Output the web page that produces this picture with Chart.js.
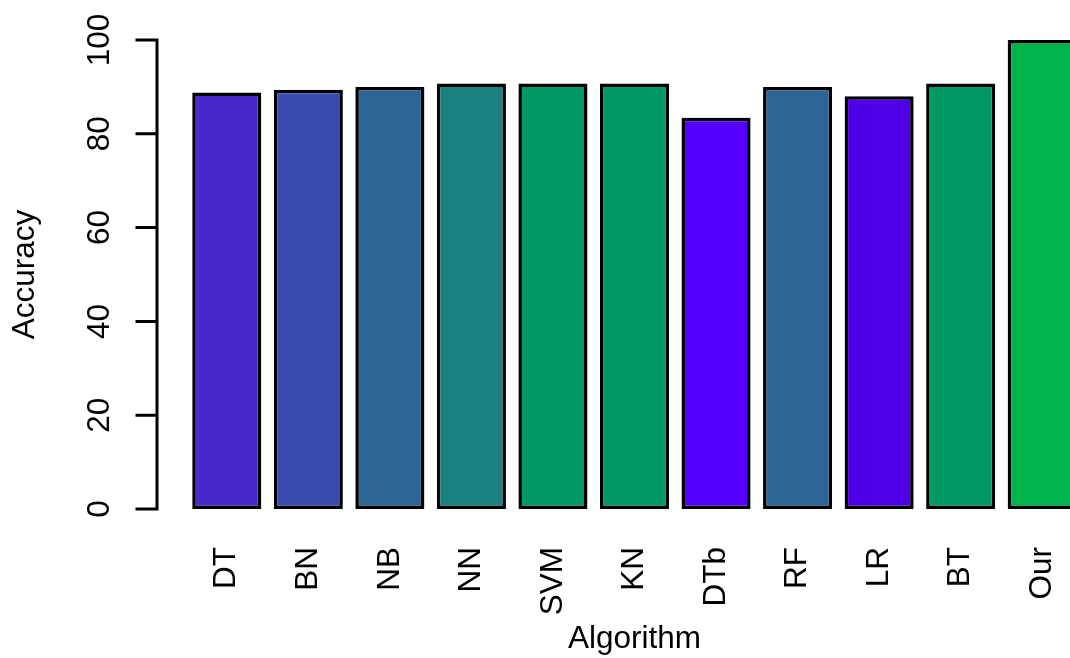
<!DOCTYPE html>
<html>
<head>
<meta charset="utf-8">
<script src="https://cdn.jsdelivr.net/npm/chart.js@4.4.0/dist/chart.umd.min.js"></script>
<style>
  html, body { margin: 0; padding: 0; background: #fff; overflow: hidden; }
  #wrap { width: 1083px; height: 658px; }
</style>
</head>
<body>
<div id="wrap"><canvas id="myChart"></canvas></div>
<script>
var algorithms = ['DT', 'BN', 'NB', 'NN', 'SVM', 'KN', 'DTb', 'RF', 'LR', 'BT', 'Our'];
var accuracy = [88.8, 89.4, 90.0, 90.7, 90.7, 90.7, 83.4, 90.0, 88.0, 90.7, 100];
var barColors = ['#4629C8', '#3A4BB0', '#2D6496', '#1A8080', '#009966', '#009966',
                 '#5500FF', '#2D6496', '#4F00E6', '#009966', '#00B34D'];
var yTicks = [0, 20, 40, 60, 80, 100];

var font = '"Liberation Sans", Arial, sans-serif';
var fontSize = 31.5;

// R style y axis, drawn next to the plot area
var rAxis = {
    id: 'rAxis',
    afterDraw: function(chart) {
        var ctx = chart.ctx;
        var y = chart.scales.y;
        var ax = 157;
        ctx.save();
        ctx.strokeStyle = '#000';
        ctx.lineWidth = 3;
        ctx.lineCap = 'square';
        ctx.beginPath();
        ctx.moveTo(ax, y.getPixelForValue(yTicks[0]));
        ctx.lineTo(ax, y.getPixelForValue(yTicks[yTicks.length - 1]));
        for (var i = 0; i < yTicks.length; i++) {
            var py = y.getPixelForValue(yTicks[i]);
            ctx.moveTo(ax, py);
            ctx.lineTo(137, py);
        }
        ctx.stroke();

        ctx.fillStyle = '#000';
        ctx.font = fontSize + 'px ' + font;
        ctx.textAlign = 'center';
        ctx.textBaseline = 'middle';
        for (var j = 0; j < yTicks.length; j++) {
            ctx.save();
            ctx.translate(100, y.getPixelForValue(yTicks[j]));
            ctx.rotate(-Math.PI / 2);
            ctx.fillText(String(yTicks[j]), 0, 0);
            ctx.restore();
        }
        ctx.save();
        ctx.translate(25, (y.top + y.bottom) / 2);
        ctx.rotate(-Math.PI / 2);
        ctx.fillText('Accuracy', 0, 0);
        ctx.restore();
        ctx.restore();
    }
};

var ctx = document.getElementById('myChart');

var barGraph = new Chart(ctx, {
    type: 'bar',
    data: {
        labels: algorithms,
        datasets: [{
            label: 'Accuracy',
            data: accuracy,
            backgroundColor: barColors,
            borderColor: '#000',
            borderWidth: 3.5,
            borderSkipped: false,
            barPercentage: 0.847,
            categoryPercentage: 1
        }]
    },
    options: {
        responsive: true,
        maintainAspectRatio: false,
        animation: false,
        layout: { padding: { left: 186, top: 40, right: 0, bottom: 0 } },
        plugins: {
            legend: { display: false },
            tooltip: { enabled: false }
        },
        scales: {
            x: {
                grid: { display: false, drawTicks: false },
                border: { display: false },
                ticks: {
                    color: '#000',
                    font: { family: font, size: fontSize },
                    minRotation: 90,
                    maxRotation: 90,
                    padding: 38
                },
                title: {
                    display: true,
                    text: 'Algorithm',
                    color: '#000',
                    font: { family: font, size: fontSize },
                    padding: { top: 11, bottom: 0 }
                },
                afterFit: function(scale) {
                    scale.height = 149;
                    scale.paddingLeft = 0;
                    scale.paddingRight = 0;
                }
            },
            y: {
                display: false,
                min: 0,
                max: 100
            }
        }
    },
    plugins: [rAxis]
});
</script>
</body>
</html>
